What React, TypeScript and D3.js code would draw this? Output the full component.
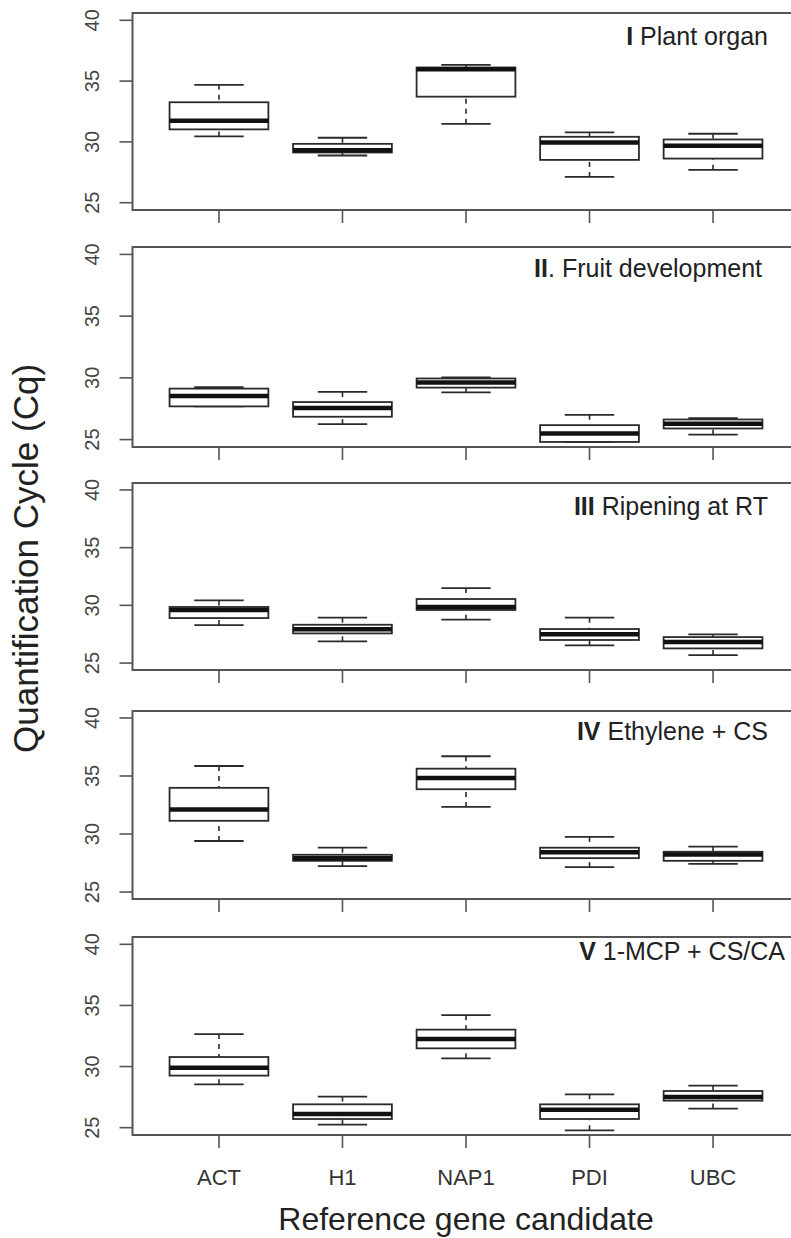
import React from "react";
import * as d3 from "d3";

// ---- Data ----
const genes = ["ACT", "H1", "NAP1", "PDI", "UBC"];
const panelNumerals = ["I", "II", "III", "IV", "V"];
const panelTitles = [" Plant organ", ". Fruit development", " Ripening at RT", " Ethylene + CS", " 1-MCP + CS/CA"];
const yTicks = [25, 30, 35, 40];

// [lower whisker, Q1, median, Q3, upper whisker] per gene
const plantOrgan = [
  [30.45, 31.03, 31.74, 33.26, 34.69],
  [28.88, 29.13, 29.32, 29.84, 30.34],
  [31.49, 33.72, 35.97, 36.12, 36.34],
  [27.12, 28.52, 29.95, 30.42, 30.78],
  [27.7, 28.63, 29.68, 30.2, 30.67],
];
const fruitDevelopment = [
  [27.69, 27.69, 28.53, 29.13, 29.24],
  [26.25, 26.85, 27.55, 28.04, 28.86],
  [28.83, 29.21, 29.62, 29.95, 30.03],
  [24.81, 24.81, 25.49, 26.17, 27.01],
  [25.41, 25.9, 26.28, 26.63, 26.74],
];
const ripeningRT = [
  [28.29, 28.9, 29.6, 29.86, 30.43],
  [26.88, 27.57, 27.92, 28.32, 28.93],
  [28.76, 29.6, 29.86, 30.55, 31.5],
  [26.53, 27.0, 27.49, 27.95, 28.93],
  [25.69, 26.27, 26.82, 27.25, 27.49],
];
const ethyleneCS = [
  [29.4, 31.14, 32.12, 33.98, 35.86],
  [27.23, 27.69, 27.92, 28.21, 28.82],
  [32.33, 33.86, 34.82, 35.63, 36.7],
  [27.14, 27.92, 28.42, 28.82, 29.75],
  [27.43, 27.69, 28.24, 28.47, 28.91],
];
const mcpCSCA = [
  [28.55, 29.26, 29.91, 30.78, 32.66],
  [25.25, 25.71, 26.12, 26.91, 27.54],
  [30.67, 31.49, 32.26, 33.02, 34.2],
  [24.78, 25.71, 26.47, 26.91, 27.73],
  [26.56, 27.21, 27.51, 28.0, 28.44],
];
const panelData = [plantOrgan, fruitDevelopment, ripeningRT, ethyleneCS, mcpCSCA];

// ---- Layout ----
const W = 791;
const H = 1238;
const frameLeft = 132.5;
const frameRight = 799.5;
const panelTops = [13, 247, 483, 711, 937];
const panelBottoms = [210, 447, 670, 899, 1135];
const labelRight = [768, 762, 768, 768, 785];
const labelBaseline = [45, 277, 515, 740, 960];

const FONT = "'Liberation Sans', Arial, Helvetica, sans-serif";
const TEXT = "#222";
const FRAME = "#555";
const LINE = "#2a2a2a";

const x = d3.scaleLinear().domain([0.3, 5.7]).range([frameLeft, frameRight]);
const boxW = (x(1.4) - x(1)) ; // half of 0.8 width
const capHalf = boxW / 2;

function Panel({ idx }: { idx: number }) {
  const top = panelTops[idx];
  const bottom = panelBottoms[idx];
  const y = d3.scaleLinear().domain([24.4, 40.6]).range([bottom, top]);
  const data = panelData[idx];
  return (
    <g>
      {/* frame */}
      <rect x={frameLeft} y={top} width={frameRight - frameLeft} height={bottom - top}
        fill="none" stroke={FRAME} strokeWidth={2} />
      {/* y ticks */}
      {yTicks.map((t) => (
        <g key={t}>
          <line x1={frameLeft - 13} x2={frameLeft} y1={y(t)} y2={y(t)} stroke={FRAME} strokeWidth={1.6} />
          <text transform={`translate(99,${y(t)}) rotate(-90)`} textAnchor="middle"
            fontFamily={FONT} fontSize={20} fill="#444">{t}</text>
        </g>
      ))}
      {/* x ticks */}
      {genes.map((g, i) => (
        <line key={g} x1={x(i + 1)} x2={x(i + 1)} y1={bottom} y2={bottom + 13} stroke={FRAME} strokeWidth={1.6} />
      ))}
      {/* boxes */}
      {data.map((s, i) => {
        const cx = x(i + 1);
        const [lo, q1, med, q3, hi] = s;
        return (
          <g key={i}>
            <line x1={cx} x2={cx} y1={y(hi)} y2={y(q3)} stroke={LINE} strokeWidth={1.6} strokeDasharray="5,5" />
            <line x1={cx} x2={cx} y1={y(lo)} y2={y(q1)} stroke={LINE} strokeWidth={1.6} strokeDasharray="5,5" />
            <line x1={cx - capHalf} x2={cx + capHalf} y1={y(hi)} y2={y(hi)} stroke={LINE} strokeWidth={1.8} />
            <line x1={cx - capHalf} x2={cx + capHalf} y1={y(lo)} y2={y(lo)} stroke={LINE} strokeWidth={1.8} />
            <rect x={cx - boxW} y={y(q3)} width={boxW * 2} height={Math.max(0.5, y(q1) - y(q3))}
              fill="#fff" stroke={LINE} strokeWidth={1.8} />
            <line x1={cx - boxW} x2={cx + boxW} y1={y(med)} y2={y(med)} stroke="#111" strokeWidth={4.5} />
          </g>
        );
      })}
      {/* panel label */}
      <text x={labelRight[idx]} y={labelBaseline[idx]} textAnchor="end" fontFamily={FONT}
        fontSize={25} fill={TEXT}>
        <tspan fontWeight="bold">{panelNumerals[idx]}</tspan>
        <tspan>{panelTitles[idx]}</tspan>
      </text>
    </g>
  );
}

export default function App() {
  const lastBottom = panelBottoms[panelBottoms.length - 1];
  return (
    <svg width={W} height={H} viewBox={`0 0 ${W} ${H}`}
      style={{ position: "absolute", left: 0, top: 0, background: "#fff" }}>
      <rect x={0} y={0} width={W} height={H} fill="#fff" />
      {panelData.map((_, i) => (
        <Panel key={i} idx={i} />
      ))}
      {genes.map((g, i) => (
        <text key={g} x={x(i + 1)} y={lastBottom + 50} textAnchor="middle" fontFamily={FONT}
          fontSize={22} fill="#333">{g}</text>
      ))}
      <text x={(frameLeft + frameRight) / 2} y={1230} textAnchor="middle" fontFamily={FONT}
        fontSize={32} fill={TEXT}>Reference gene candidate</text>
      <text transform={`translate(38,753) rotate(-90)`} textAnchor="start" fontFamily={FONT}
        fontSize={35} fill={TEXT}>Quantification Cycle (Cq)</text>
    </svg>
  );
}
